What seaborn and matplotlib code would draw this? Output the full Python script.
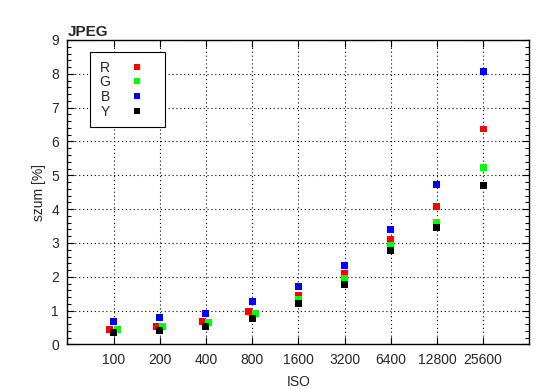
import matplotlib
matplotlib.use("Agg")
import matplotlib.pyplot as plt
import matplotlib.ticker as mticker
import seaborn as sns
import pandas as pd
import numpy as np

iso_ticks = [100, 200, 400, 800, 1600, 3200, 6400, 12800, 25600]
# measured ISO per channel (R and G slightly shifted at low ISO)
iso_R = [94, 190, 380, 757, 1600, 3200, 6400, 12800, 25600]
iso_G = [106, 210, 416, 840, 1600, 3200, 6400, 12800, 25600]
iso_B = [100, 200, 400, 800, 1600, 3200, 6400, 12800, 25600]
iso_Y = [100, 200, 400, 800, 1600, 3200, 6400, 12800, 25600]
noise_R = [0.43, 0.54, 0.67, 0.98, 1.46, 2.09, 3.09, 4.07, 6.37]
noise_G = [0.45, 0.53, 0.65, 0.92, 1.34, 1.95, 2.92, 3.62, 5.22]
noise_B = [0.69, 0.81, 0.91, 1.26, 1.71, 2.34, 3.41, 4.74, 8.06]
noise_Y = [0.35, 0.41, 0.53, 0.77, 1.20, 1.78, 2.77, 3.46, 4.69]
channels = ["R", "G", "B", "Y"]
colors = {"R": "#ff0000", "G": "#00ff00", "B": "#0000ff", "Y": "#000000"}

frames = []
for ch, xs, ys in [("R", iso_R, noise_R), ("G", iso_G, noise_G),
                   ("B", iso_B, noise_B), ("Y", iso_Y, noise_Y)]:
    frames.append(pd.DataFrame({"ISO": xs, "szum": ys, "kanal": ch}))
df = pd.concat(frames, ignore_index=True)

sns.set_style("ticks")
plt.rcParams["font.family"] = ["Liberation Sans", "DejaVu Sans"]

fig = plt.figure(figsize=(5.5, 3.89), dpi=100)
ax = fig.add_axes([0.1224, 0.1144, 0.84, 0.7828])

sns.scatterplot(data=df, x="ISO", y="szum", hue="kanal", hue_order=channels,
                palette=colors, marker="s", s=25, linewidth=0, ax=ax,
                legend=False, zorder=3)

ax.set_xscale("log", base=2)
ax.set_xlim(50, 51200)
ax.set_ylim(0, 9)
ax.xaxis.set_major_locator(mticker.FixedLocator(iso_ticks))
ax.xaxis.set_major_formatter(mticker.FixedFormatter([str(v) for v in iso_ticks]))
ax.xaxis.set_minor_locator(mticker.NullLocator())
ax.yaxis.set_major_locator(mticker.MultipleLocator(1))
ax.yaxis.set_minor_locator(mticker.MultipleLocator(0.2))

ax.grid(True, which="major", color="black", linestyle=(0, (1, 2.5)), linewidth=0.8)
ax.tick_params(which="both", direction="in", top=True, right=True,
               labelsize=10, color="black", pad=6)
ax.tick_params(which="major", length=5, width=0.8)
ax.tick_params(which="minor", length=3, width=0.8)
for sp in ax.spines.values():
    sp.set_color("black")
    sp.set_linewidth(1.0)

ax.set_xlabel("ISO", fontsize=10, labelpad=6)
ax.set_ylabel("szum [%]", fontsize=10)
ax.set_title("JPEG", loc="left", fontsize=11, fontweight="bold", pad=3)

handles = [plt.Line2D([], [], linestyle="none", marker="s", markersize=5,
                      markerfacecolor=colors[c], markeredgewidth=0) for c in channels]
leg = ax.legend(handles, channels, loc="upper left", bbox_to_anchor=(0.05, 0.96),
                markerfirst=False, frameon=True, fancybox=False, fontsize=10,
                handlelength=2.9, handletextpad=0.5, labelspacing=0.05,
                borderpad=0.6, borderaxespad=0)
leg.get_frame().set_edgecolor("black")
leg.get_frame().set_linewidth(0.8)
leg.get_frame().set_alpha(1)

fig.savefig("out.png", dpi=100)
